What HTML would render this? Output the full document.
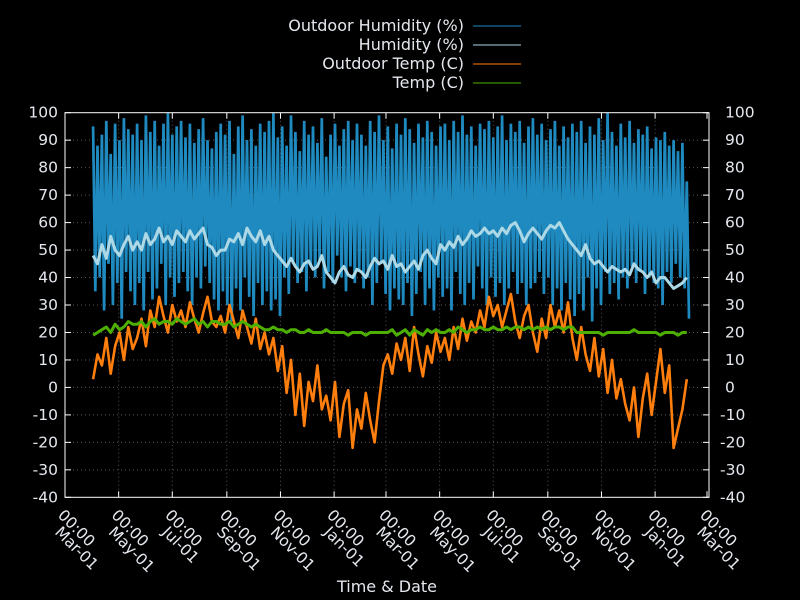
<!DOCTYPE html>
<html><head><meta charset="utf-8"><style>
body{margin:0;background:#000;}
svg{display:block;font-family:"DejaVu Sans","Liberation Sans",sans-serif;}
</style></head><body>
<svg id="chart" width="800" height="600" viewBox="0 0 800 600">
<rect width="800" height="600" fill="#000"/>
<g id="grid"></g><g id="series"></g><g id="axes"></g><g id="legend"></g>
</svg>
<script>
const yTicks=[100,90,80,70,60,50,40,30,20,10,0,-10,-20,-30,-40];
const xTickDays=[0,61,122,184,245,306,365,426,487,549,610,671,730];
const xTickDates=["Mar-01","May-01","Jul-01","Sep-01","Nov-01","Jan-01","Mar-01","May-01","Jul-01","Sep-01","Nov-01","Jan-01","Mar-01"];
const startDay=32, stepDays=5;
const outdoorTemp=[3,12,8,18,5,15,20,10,22,14, 18,25,15,28,22,33,26,20,30,24, 28,22,31,25,20,27,33,24,22,26, 20,30,24,18,28,22,16,25,14,20, 12,18,6,15,-2,10,-10,5,-14,2, -5,8,-8,-3,-12,2,-18,-6,-1,-22, -8,-15,-2,-12,-20,-5,8,12,5,16, 10,18,6,22,12,4,15,9,20,13, 18,10,22,14,25,17,24,20,28,22, 33,26,30,22,28,34,24,18,26,30, 20,13,25,18,30,22,28,20,31,18, 10,22,12,6,18,4,14,-2,10,-4, 3,-6,-12,0,-18,-4,5,-10,2,14, -2,8,-22,-15,-8,3];
const indoorTemp=[19,20,21,22,20,23,21,22,24,23, 23,24,22,24,25,23,24,24,23,25, 24,23,24,25,23,24,22,24,24,23, 23,24,22,23,24,23,22,23,22,21, 21,22,21,21,20,21,21,20,20,21, 20,20,20,21,20,20,20,20,19,20, 20,20,19,20,20,20,20,20,21,19, 20,21,19,21,20,19,21,20,21,20, 20,21,20,22,21,20,21,21,22,21, 21,22,21,21,22,21,22,22,21,22, 21,22,21,22,21,22,22,21,22,22, 20,20,20,20,20,20,19,20,20,20, 20,20,20,21,20,20,20,20,20,19, 20,20,20,19,20,20];
const indoorHum=[48,45,52,47,55,50,48,52,55,50, 53,50,56,52,54,58,53,55,52,57, 55,53,57,54,56,58,52,51,48,50, 50,54,53,56,52,58,55,53,57,52, 55,50,48,46,44,47,44,42,45,46, 43,44,48,42,40,38,42,44,41,40, 43,42,40,44,47,45,46,43,48,44, 45,42,44,46,43,48,50,47,45,52, 50,53,51,55,52,54,57,55,56,58, 56,57,55,58,56,59,60,57,53,56, 58,56,54,57,59,58,60,57,54,52, 50,48,52,47,45,46,44,42,44,43, 42,43,41,45,43,42,40,42,38,40, 40,38,36,37,38,40];
const outdoorHumHigh=[95,88,92,97,85,96,90,98,94,92, 96,90,99,93,97,88,96,100,92,95, 97,91,96,89,94,98,90,87,93,96, 92,97,85,95,99,90,94,88,96,93, 97,100,91,95,88,99,93,86,97,92, 95,89,98,84,92,96,88,94,97,90, 96,92,88,97,93,99,90,95,87,96, 92,98,94,89,96,91,97,93,88,95, 96,90,97,93,99,92,95,88,96,94, 97,91,95,99,90,96,93,97,89,95, 98,92,96,90,94,97,88,95,91,96, 93,97,89,95,92,98,90,100,93,88, 96,91,97,89,94,92,95,87,91,90, 93,88,90,86,89,75];
const outdoorHumLow=[35,40,28,45,30,38,25,42,35,30, 38,28,42,32,36,45,30,40,33,38, 42,35,30,40,36,44,38,32,28,35, 30,24,36,28,40,33,26,38,30,35, 28,32,26,40,34,45,38,42,35,44, 40,46,36,42,38,48,40,35,44,38, 42,36,40,30,38,45,34,28,36,32, 30,38,26,34,42,30,36,28,40,33, 36,28,42,34,30,38,32,44,36,30, 40,33,38,30,36,42,34,38,30,36, 38,42,34,40,30,36,28,38,32,26, 34,28,40,24,36,30,42,34,38,32, 40,36,44,38,42,34,40,38,36,30, 42,38,45,40,36,25];

const X0=65,X1=707,Y0=497.3,Y1=112.7;
const xs=d=>X0+d*(X1-X0)/730;
const ys=v=>Y0-(v+40)*(Y0-Y1)/140;
const NS="http://www.w3.org/2000/svg";
function mk(tag,attrs,parent){const e=document.createElementNS(NS,tag);for(const k in attrs)e.setAttribute(k,attrs[k]);parent.appendChild(e);return e;}
const grid=document.getElementById('grid'),axes=document.getElementById('axes'),series=document.getElementById('series'),legend=document.getElementById('legend');
const tc="#e4e8ee";
yTicks.forEach(v=>{
 const y=ys(v);
 if(v>-40&&v<100){const g=mk('line',{x1:X0,x2:X1+2,y1:y,y2:y,stroke:'#555','stroke-dasharray':'1,3','stroke-width':1},grid);
 
 }
 mk('line',{x1:X0,x2:X0+6,y1:y,y2:y,stroke:'#fff'},axes);
 mk('line',{x1:X1+2-6,x2:X1+2,y1:y,y2:y,stroke:'#fff'},axes);
 const l=mk('text',{x:58,y:y+5,'text-anchor':'end','font-size':15.5,fill:tc},axes);l.textContent=v;
 
 
 const r=mk('text',{x:v<0?720:725,y:y+5,'font-size':15.5,fill:tc},axes);r.textContent=v;
 
 
});
xTickDays.forEach((d,i)=>{
 const x=xs(d);
 if(i>0&&i<xTickDays.length-1){const g=mk('line',{x1:x,x2:x,y1:Y1,y2:Y0,stroke:'#555','stroke-dasharray':'1,3'},grid);
 
 }
 mk('line',{x1:x,x2:x,y1:Y0,y2:Y0-6,stroke:'#fff'},axes);
 mk('line',{x1:x,x2:x,y1:Y1,y2:Y1+6,stroke:'#fff'},axes);
 const t1=mk('text',{transform:`translate(${x-8},${516}) rotate(45)`,'font-size':15.5,fill:tc},axes);t1.textContent="00:00";
 
 
 const t2=mk('text',{transform:`translate(${x-11},${533}) rotate(45)`,'font-size':15.5,fill:tc},axes);t2.textContent=xTickDates[i];
 
 
});
const frame=mk('rect',{x:X0,y:Y1,width:X1+2-X0,height:Y0-Y1,fill:'none',stroke:'#fff','stroke-width':1},axes);


const xt=mk('text',{x:387,y:592,'text-anchor':'middle','font-size':16,fill:tc},axes);xt.textContent="Time & Date";



function line(vals,color,name,w){
 const pts=vals.map((v,i)=>xs(startDay+i*stepDays).toFixed(1)+","+ys(v).toFixed(1)).join(" ");
 const p=mk('polyline',{points:pts,fill:'none',stroke:color,'stroke-width':w,'stroke-linejoin':'round'},series);
 
 
}
const hp=[];
outdoorHumHigh.forEach((h,i)=>{const x=xs(startDay+i*stepDays);hp.push(x.toFixed(1)+","+ys(h).toFixed(1));hp.push((x+2.2).toFixed(1)+","+ys(outdoorHumLow[i]).toFixed(1));});
const oh=mk('polyline',{points:hp.join(" "),fill:'none',stroke:'#1f8ac0','stroke-width':2.7},series);


line(indoorHum,'#add8e6','humidity-line',3);
line(outdoorTemp,'#ff7f0e','outdoor-temp-line',2.6);
line(indoorTemp,'#4daf00','temp-line',3);

const leg=[["Outdoor Humidity (%)","#1f8ac0"],["Humidity (%)","#add8e6"],["Outdoor Temp (C)","#ff7f0e"],["Temp (C)","#4daf00"]];
leg.forEach((e,i)=>{
 const y=26+i*19;
 const t=mk('text',{x:464,y:y+5,'text-anchor':'end','font-size':16,fill:tc},legend);t.textContent=e[0];
 
 
 const l=mk('line',{x1:473,x2:521,y1:y,y2:y,stroke:e[1],'stroke-width':1},legend);
 
 
});
</script>
</body></html>
